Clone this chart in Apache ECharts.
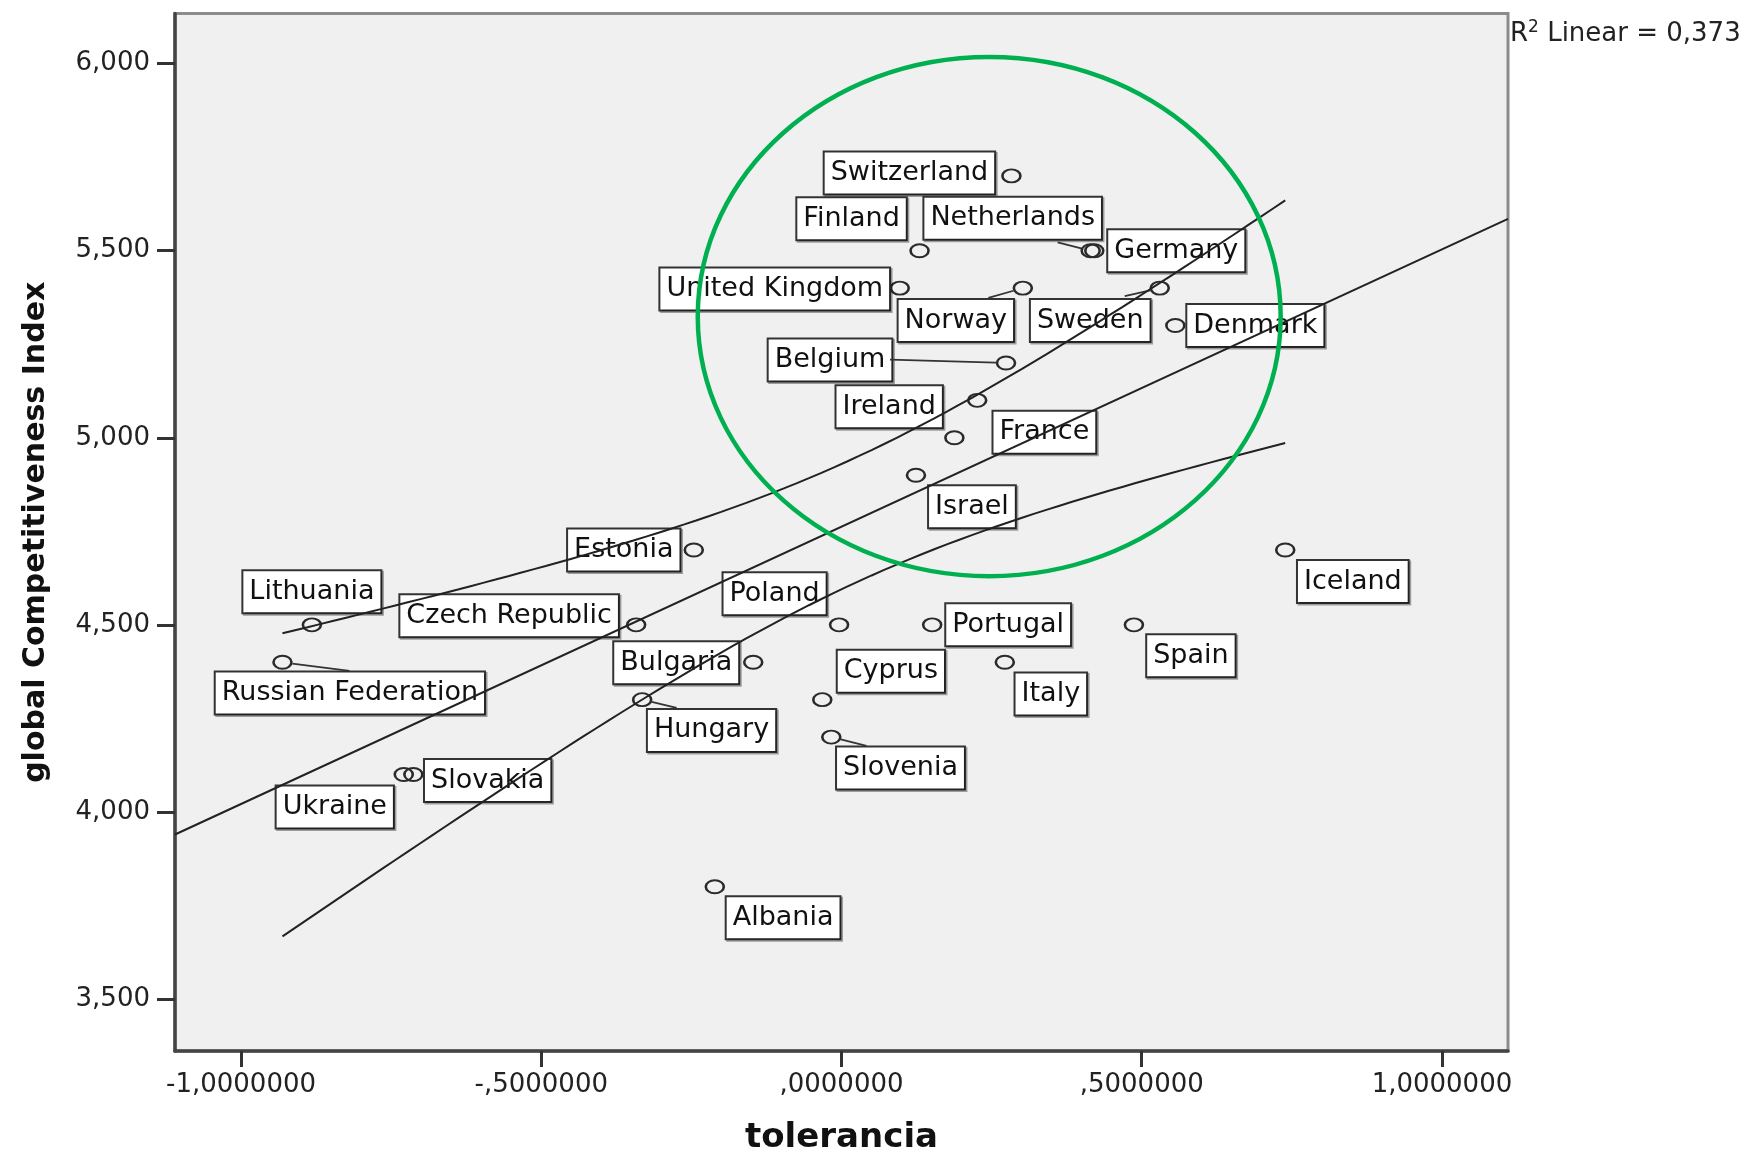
<!DOCTYPE html>
<html>
<head>
<meta charset="utf-8">
<script src="https://cdn.jsdelivr.net/npm/echarts@6/dist/echarts.min.js"></script>
<style>
html,body{margin:0;padding:0;background:#fff;}
#chart{width:1758px;height:1160px;}
</style>
</head>
<body>
<div id="chart"></div>
<script>
// ---------------- data ----------------
const countries = ['Switzerland','Finland','Netherlands','Germany','United Kingdom','Norway','Sweden','Denmark',
  'Belgium','Ireland','France','Israel','Estonia','Lithuania','Russian Federation','Czech Republic','Poland',
  'Portugal','Spain','Iceland','Bulgaria','Italy','Cyprus','Hungary','Slovenia','Slovakia','Ukraine','Albania'];
const tolerancia = [0.283,0.130,0.415,0.421,0.097,0.302,0.530,0.556,
  0.274,0.226,0.188,0.124,-0.246,-0.882,-0.931,-0.342,-0.004,
  0.151,0.487,0.739,-0.147,0.272,-0.032,-0.332,-0.017,-0.713,-0.729,-0.211];
const gci = [5.7,5.5,5.5,5.5,5.4,5.4,5.4,5.3,
  5.2,5.1,5.0,4.9,4.7,4.5,4.4,4.5,4.5,
  4.5,4.5,4.7,4.4,4.4,4.3,4.3,4.2,4.1,4.1,3.8];
const xTicks = [-1, -0.5, 0, 0.5, 1];
const yTicks = [3.5, 4, 4.5, 5, 5.5, 6];
const xRange = [-1.11, 1.11];
const yRange = [3.361, 6.134];
const rSquaredText = '0,373';
// green highlight ellipse: [centre x, centre y, radius x, radius y] in data units
const highlightEllipse = [0.246, 5.324, 0.4854, 0.6938];

// ---------------- layout (pixel offsets of the label boxes) ----------------
const labelOffset = {
  'Switzerland':[-102,-3], 'Finland':[-68,-32], 'Netherlands':[-78,-32.5], 'Germany':[82,0],
  'United Kingdom':[-125,1], 'Norway':[-67,32.5], 'Sweden':[-69.5,32.5], 'Denmark':[80,0],
  'Belgium':[-176,-3], 'Ireland':[-88,6.5], 'France':[90,-5.5], 'Israel':[56,31.5],
  'Estonia':[-70,0], 'Lithuania':[0,-33], 'Russian Federation':[67.4,30.8], 'Czech Republic':[-127,-9],
  'Poland':[-64.5,-31], 'Portugal':[76,0], 'Spain':[57,31], 'Iceland':[67.6,31.6],
  'Bulgaria':[-77,0.5], 'Italy':[46,31.7], 'Cyprus':[68.6,-28.5], 'Hungary':[69.4,30.8],
  'Slovenia':[69.2,31], 'Slovakia':[74.3,6], 'Ukraine':[-69,32.6], 'Albania':[68.3,31]
};
const leaderEnd = {
  'Netherlands':[-33,-8.4], 'Norway':[-34.5,9.7], 'Sweden':[-35,8], 'Belgium':[-116,-3.4],
  'Hungary':[34.5,8.3], 'Slovenia':[35.2,8.7], 'Russian Federation':[67,8.7]
};

// ---------------- linear fit with 95% mean confidence interval ----------------
const n = tolerancia.length;
const mx = tolerancia.reduce((s,v)=>s+v,0)/n;
const my = gci.reduce((s,v)=>s+v,0)/n;
let sxx=0, sxy=0;
for (let i=0;i<n;i++){ sxx += (tolerancia[i]-mx)**2; sxy += (tolerancia[i]-mx)*(gci[i]-my); }
const slope = sxy/sxx, intercept = my - slope*mx;
let sse=0;
for (let i=0;i<n;i++){ sse += (gci[i]-(intercept+slope*tolerancia[i]))**2; }
const sRes = Math.sqrt(sse/(n-2));
const tCrit = 2.0555; // df = 26
const xDataMin = Math.min(...tolerancia), xDataMax = Math.max(...tolerancia);
const fitLine = [[xRange[0], intercept+slope*xRange[0]], [xRange[1], intercept+slope*xRange[1]]];
const ciUpper = [], ciLower = [];
const steps = 80;
for (let k=0;k<=steps;k++){
  const x = xDataMin + (xDataMax-xDataMin)*k/steps;
  const yh = intercept + slope*x;
  const h = tCrit*sRes*Math.sqrt(1/n + (x-mx)**2/sxx);
  ciUpper.push([x, yh+h]); ciLower.push([x, yh-h]);
}

// ---------------- formatters ----------------
function fmtX(v){
  let s = Math.abs(v).toFixed(7);
  if (s.charAt(0)==='0') s = s.slice(1);
  s = s.replace('.', ',');
  return (v<0?'-':'') + s;
}
function fmtY(v){ return v.toFixed(3).replace('.', ','); }

const FONT = 'DejaVu Sans';
const leaderNames = Object.keys(leaderEnd);

const chart = echarts.init(document.getElementById('chart'));
const option = {
  backgroundColor:'#ffffff',
  animation:false,
  title:{
    text:'{r|R}{s|2}{r| Linear = ' + rSquaredText + '}',
    left:1510, top:19, padding:0,
    textStyle:{
      fontWeight:'normal', fontFamily:FONT, fontSize:26, color:'#222',
      rich:{
        r:{fontFamily:FONT, fontWeight:'normal', fontSize:26, lineHeight:30, color:'#222'},
        s:{fontFamily:FONT, fontWeight:'normal', fontSize:17, lineHeight:14, verticalAlign:'top', color:'#222'}
      }
    }
  },
  grid:{left:175, right:250, top:13.5, bottom:108, show:true,
        backgroundColor:'#f0f0f0', borderColor:'#8c8c8c', borderWidth:3},
  xAxis:{
    type:'value', min:xRange[0], max:xRange[1],
    name:'tolerancia', nameLocation:'middle', nameGap:70,
    nameTextStyle:{fontFamily:FONT, fontWeight:'bold', fontSize:34, color:'#111'},
    splitLine:{show:false},
    axisLine:{show:true, onZero:false, lineStyle:{color:'#444', width:3.5}},
    axisTick:{show:true, customValues:xTicks, length:16, lineStyle:{color:'#333', width:3}},
    axisLabel:{show:true, customValues:xTicks, formatter:fmtX, margin:21,
               fontFamily:FONT, fontSize:26, color:'#222'}
  },
  yAxis:{
    type:'value', min:yRange[0], max:yRange[1],
    name:'global Competitiveness Index', nameLocation:'middle', nameGap:124, nameRotate:90,
    nameTextStyle:{fontFamily:FONT, fontWeight:'bold', fontSize:30, color:'#111'},
    splitLine:{show:false},
    axisLine:{show:true, onZero:false, lineStyle:{color:'#444', width:3.5}},
    axisTick:{show:true, customValues:yTicks, length:18, lineStyle:{color:'#333', width:3}},
    axisLabel:{show:true, customValues:yTicks, formatter:fmtY, margin:25,
               fontFamily:FONT, fontSize:26, color:'#222'}
  },
  series:[
    {
      type:'scatter', z:2,
      symbol:'circle', symbolSize:[18,13],
      itemStyle:{color:'rgba(0,0,0,0)', borderColor:'#2a2a2a', borderWidth:2.2, opacity:1},
      label:{
        show:true, position:'inside', formatter:'{b}',
        fontFamily:FONT, fontSize:27, lineHeight:27, color:'#111',
        backgroundColor:'#ffffff', borderColor:'#333', borderWidth:2,
        padding:[7,6,7,6],
        shadowColor:'rgba(0,0,0,0.35)', shadowOffsetX:1.5, shadowOffsetY:1.5, shadowBlur:0
      },
      emphasis:{disabled:true},
      data:countries.map((c,i)=>({name:c, value:[tolerancia[i], gci[i]], label:{offset:labelOffset[c]}}))
    },
    {
      type:'custom', z:3, silent:true,
      data:leaderNames.map(c=>{ const i = countries.indexOf(c); return {name:c, value:[tolerancia[i], gci[i]]}; }),
      renderItem:function(params, api){
        const p = api.coord([api.value(0), api.value(1)]);
        const e = leaderEnd[leaderNames[params.dataIndex]];
        const len = Math.hypot(e[0], e[1]);
        const ux = e[0]/len, uy = e[1]/len;
        const r = 1/Math.sqrt((ux/10)**2 + (uy/7.5)**2);
        return {type:'line', shape:{x1:p[0]+ux*r, y1:p[1]+uy*r, x2:p[0]+e[0], y2:p[1]+e[1]},
                style:{stroke:'#333', lineWidth:1.8}};
      }
    },
    {
      type:'line', z:4, silent:true, symbol:'none', data:fitLine,
      lineStyle:{color:'#222', width:2}
    },
    {
      type:'line', z:4, silent:true, symbol:'none', smooth:false, data:ciUpper,
      lineStyle:{color:'#222', width:2}
    },
    {
      type:'line', z:4, silent:true, symbol:'none', smooth:false, data:ciLower,
      lineStyle:{color:'#222', width:2}
    },
    {
      type:'custom', z:10, silent:true,
      data:[highlightEllipse],
      renderItem:function(params, api){
        const c = api.coord([api.value(0), api.value(1)]);
        const sz = api.size([api.value(2), api.value(3)]);
        return {type:'ellipse', shape:{cx:c[0], cy:c[1], rx:sz[0], ry:sz[1]},
                style:{fill:null, stroke:'#00b050', lineWidth:4.5}};
      }
    }
  ]
};
chart.setOption(option);
</script>
</body>
</html>
